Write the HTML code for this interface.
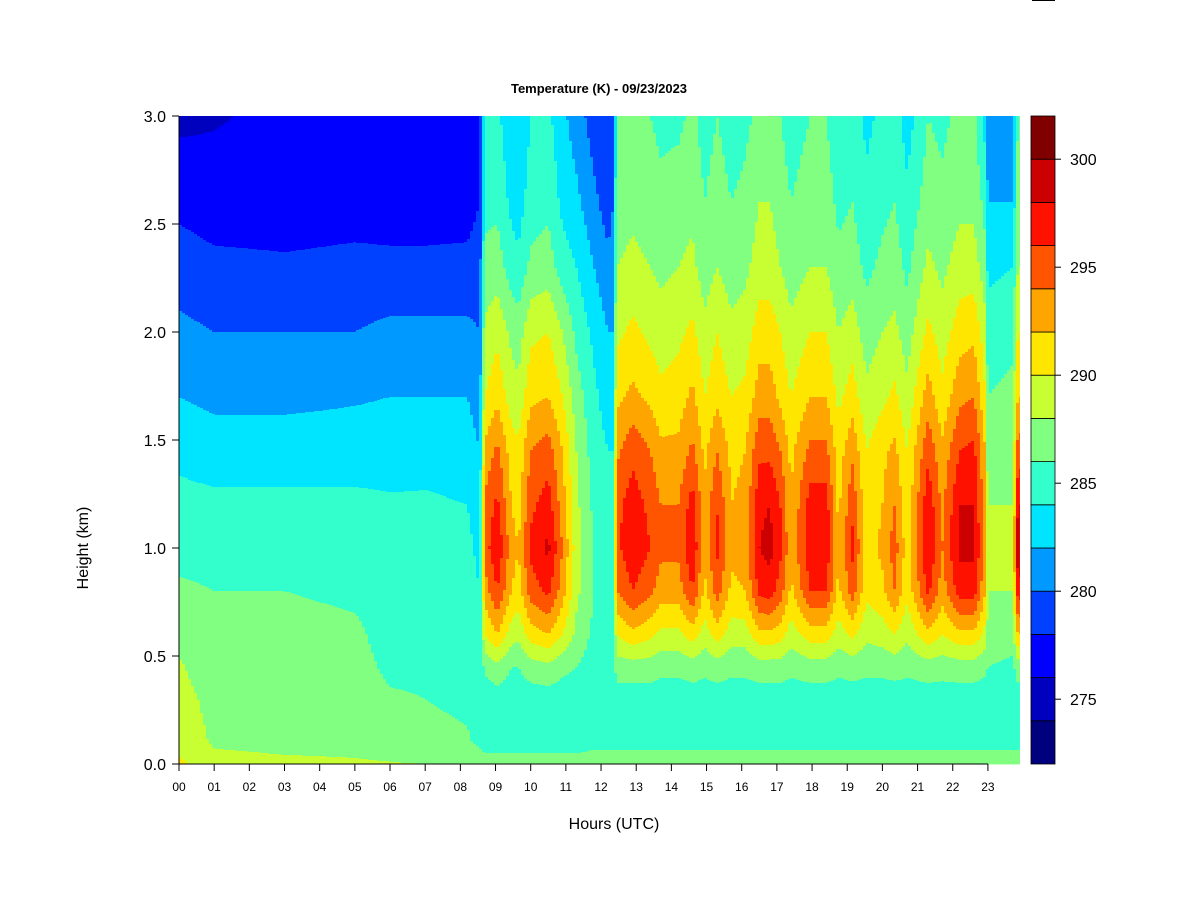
<!DOCTYPE html>
<html><head><meta charset="utf-8"><style>
html,body{margin:0;padding:0;background:#fff;}
svg{display:block;font-family:"Liberation Sans",Arial,sans-serif;}
</style></head><body>
<svg id="chart" width="1200" height="900" viewBox="0 0 1200 900">
<rect width="1200" height="900" fill="#fff"/>
<line x1="1032" y1="0" x2="1055" y2="0" stroke="#000" stroke-width="2"/>
<text x="599" y="93" text-anchor="middle" font-size="13" font-weight="bold">Temperature (K) - 09/23/2023</text>
<g id="heat"></g>
<g id="axes"></g>
<g id="cbar"></g>
<text x="614" y="829" text-anchor="middle" font-size="16">Hours (UTC)</text>
<text x="88" y="548" text-anchor="middle" font-size="16" transform="rotate(-90 88 548)">Height (km)</text>
</svg>
<script>
const heights=[0,0.1,0.3,0.45,0.6,0.8,1.0,1.2,1.45,1.7,2.0,2.3,2.6,3.0];
const times=[0,1,3,5,6,7,8.2,8.55,8.7,9.05,9.45,9.65,10.0,10.5,10.9,11.3,11.8,12.2,12.35,12.45,12.9,13.4,13.7,14.2,14.6,14.95,15.3,15.7,16.1,16.5,16.8,17.1,17.4,17.95,18.4,18.75,19.15,19.55,20.0,20.35,20.7,21.3,21.7,22.2,22.6,22.9,23.0,23.7,23.85,23.95];
const temps=[
[290.5,289,288.6,288.2,287.5,286.5,285,284.6,283.5,282,280.5,279,277.5,275.5],
[288.5,287.8,287.5,287,287,286,285,284.5,283,281.5,280,278.5,277,275.8],
[288.3,287.6,287.4,287,287,286,285,284.5,283,281.5,280,278.3,277,276.5],
[288.2,287.5,287.2,286.9,286.5,285.5,285,284.5,283,281.8,280,278.5,277.2,276.5],
[288.1,287.2,286.3,285.5,285,285,284.8,284.3,283,282,280.5,278.5,277,276.5],
[288,286.8,286,285.5,285,285,284.8,284.3,283.2,282,280.5,278.5,277,276.3],
[287.8,286.3,285.5,285,285,284.8,284.5,284,283,282,280.5,278.5,277.2,276.5],
[287.5,285.5,284.6,284.5,284.5,284,283.5,283,282,281,280,279,278,277],
[287,285,284.5,286.5,290,293,295,294.5,292.5,290,288.5,286.5,285.5,284],
[287,285,285,287.5,292,296,297.8,296.5,294.5,291.5,289.5,287,285.5,284.5],
[287,285,285,286,289,292,293,292,291,289,287.5,285,283.5,282.5],
[287,285,285,286,288.5,291,292,291,290.5,288.5,287,284.5,283,282],
[287,285,285,287,291,295,296.5,295.5,294,291.5,289.5,286.5,285,284],
[287,285,285,287.5,292,296.5,298.5,297,295,292,290,287,285.5,284.5],
[287,285,285,286.5,290,293,294,293,292,290,288,285,283.5,282.5],
[287,285,285,286,287.5,288.5,289,288.5,288,287,285.5,284,282.5,281],
[287,285.5,285,285,285.5,286,286,285.5,285,284.5,283.5,282,280.5,279],
[287,285.5,285,285,285,285,285,284.5,284,283,282,280.5,279,278],
[287,285.5,285,285,285,285,285,284.5,284,283,282,281,280,279],
[287,285.5,285,287,290,294,295.5,295.5,293.5,291.5,289.5,288,287,286],
[287,285.5,285,287,291.5,296,297.5,297,295.5,292.5,290.5,288.5,287.5,286.5],
[287,285.5,285,287,290.5,294.5,296,295.5,294,291.5,289.5,288,287,286],
[287,285.5,285,286.5,289.5,293,294.5,294,292.5,290.5,289,287.5,286.5,285.5],
[287,285.5,285,286.5,289.5,293,294.5,294,292.5,291,289.5,288,287,285.5],
[287,285.5,285,287,291,296,297.8,297,294.5,292.5,290.5,288.5,287.5,286.5],
[287,285.5,285,286.5,289,291.5,292.5,292.5,291.5,290,288.5,287,286,285],
[287,285.5,285,287,291,295,296.5,296,294,291.5,290,288,287,286],
[287,285.5,285,286.5,289,291.5,292.5,292,291.5,290,288.5,287,286,285],
[287,285.5,285,286.5,289,292,293,292.5,292,290.5,289,287.5,286.5,285.5],
[287,285.5,285,287,291.5,296.5,298,297.5,295.5,293,291,289,288,286.5],
[287,285.5,285,287,291.5,297,298.8,298,295.5,293,291,289,288,286.5],
[287,285.5,285,287,291,295,296.5,296,294,291.5,290,288,287,286],
[287,285.5,285,286.5,289,291.5,292.5,292,291.5,290,288.5,287,286,285],
[287,285.5,285,287,291,296,297.5,297,294.5,292,290,288,287,286],
[287,285.5,285,287,291,296,297.5,297,294.5,292,290,288,287,286],
[287,285.5,285,286.5,289,291.5,292,291.5,291,289.5,288,286.5,285.5,284.5],
[287,285.5,285,286.8,290.5,295,296.5,295.5,293.5,291,289,287,286,285],
[287,285.5,285,286.5,288.5,290.5,291,290.5,290,288.5,287,285.5,284.5,283.5],
[287,285.5,285,286.5,289,291.5,292.5,292,291.5,289.5,288,286.5,285.5,284.5],
[287,285.5,285,286.8,290,294,295,294,292.5,290.5,288.5,287,286,285],
[287,285.5,285,286.5,288.5,290.5,291,290.5,290,288.5,287,285.5,284.5,283],
[287,285.5,285,287,291.5,296.5,298,297.5,295.5,293,290.5,288.5,287,286],
[287,285.5,285,286.8,290,293,294,293.5,292.5,290.5,289,287.5,286.5,285.5],
[287,285.5,285,287,291.5,297,298.5,298,296,293.5,291,289,287.5,286.5],
[287,285.5,285,287,291.5,297,298.5,298,296.5,294,291.5,289,287.5,286.5],
[287,285.5,285,286.5,289.5,292.5,293.5,293,292.5,290.5,289,287,285.5,283.5],
[287,285.5,285,286,287.5,288,288.5,288,287,286,285,283.5,282,280.5],
[287,285.5,285,285.5,287,288,288.5,288,287.5,286.5,285.5,284,282,281],
[287,285.5,285,287,292,297,300,298,295,292,290,288,287,286],
[287,285.5,285,287,292,297,300,298,295,292,290,288,287,286]
];
const levelBreaks=[272,274,276,278,280,282,284,286,288,290,292,294,296,298,300,302];
const cbTicks=[275,280,285,290,295,300];
const hourLabels=["00","01","02","03","04","05","06","07","08","09","10","11","12","13","14","15","16","17","18","19","20","21","22","23"];
const yTicks=[0,0.5,1,1.5,2,2.5,3];
const colors=["#00007F","#0000BF","#0000FF","#0040FF","#0099FF","#00E5FF","#33FFCC","#80FF80","#C8FF33","#FFE600","#FFA500","#FF5500","#FF1100","#CC0000","#800000"];

const NS="http://www.w3.org/2000/svg";
const X0=179,PX=35.17,Y0=764,PY=216;
const xS=t=>X0+t*PX, yS=h=>Y0-h*PY;
const tMax=23.9;
function lerpIdx(arr,v){let i=0;while(i<arr.length-2&&arr[i+1]<v)i++;const f=Math.max(0,Math.min(1,(v-arr[i])/(arr[i+1]-arr[i])));return [i,f];}
function val(t,h){const [i,fi]=lerpIdx(times,t);const [j,fj]=lerpIdx(heights,h);
 const a=temps[i][j]*(1-fj)+temps[i][j+1]*fj;const b=temps[i+1][j]*(1-fj)+temps[i+1][j+1]*fj;return a*(1-fi)+b*fi;}
function lvl(v){let k=Math.floor((v-levelBreaks[0])/2);return Math.max(0,Math.min(colors.length-1,k));}
function mk(tag,attrs,txt){const e=document.createElementNS(NS,tag);for(const k in attrs)e.setAttribute(k,attrs[k]);if(txt!=null)e.textContent=txt;return e;}
const heat=document.getElementById('heat');
const x1=xS(0),x2=xS(tMax),CW=3;
for(let x=x1;x<x2;x+=CW){
 const w=Math.min(CW,x2-x);const t=(x+w/2-X0)/PX;
 let start=yS(3),cur=-1;
 for(let y=yS(3);y<=Y0;y+=1){
  const h=(Y0-(y+0.5))/PY;const k=y<Y0?lvl(val(t,Math.max(0,h))):-2;
  if(k!==cur){
   if(cur>=0){
    const r=mk('rect',{x:x,y:start,width:w+0.4,height:y-start+0.4,fill:colors[cur]});
    
    
    heat.appendChild(r);
   }
   cur=k;start=y;
  }
 }
}
const axes=document.getElementById('axes');
let l=mk('line',{x1:X0,y1:yS(0),x2:X0,y2:yS(3),stroke:'#000'});


axes.appendChild(l);
yTicks.forEach(v=>{
 const tk=mk('line',{x1:X0-7,y1:yS(v),x2:X0,y2:yS(v),stroke:'#000'});
 
 
 axes.appendChild(tk);
 const tx=mk('text',{x:X0-13,y:yS(v)+6,'text-anchor':'end','font-size':16},v.toFixed(1));
 
 
 axes.appendChild(tx);
});
l=mk('line',{x1:xS(0),y1:Y0,x2:xS(23),y2:Y0,stroke:'#000'});


axes.appendChild(l);
hourLabels.forEach((s,i)=>{
 const tk=mk('line',{x1:xS(i),y1:Y0,x2:xS(i),y2:Y0+7,stroke:'#000'});
 
 
 axes.appendChild(tk);
 const tx=mk('text',{x:xS(i),y:Y0+27,'text-anchor':'middle','font-size':12},s);
 
 
 axes.appendChild(tx);
});
const cb=document.getElementById('cbar');
const CBX=1031,CBW=24,cbY=v=>764-(v-272)*(648/30);
colors.forEach((c,i)=>{
 const r=mk('rect',{x:CBX,y:cbY(levelBreaks[i+1]),width:CBW,height:cbY(levelBreaks[i])-cbY(levelBreaks[i+1]),fill:c,stroke:'#000','stroke-width':0.8});
 
 
 cb.appendChild(r);
});
cbTicks.forEach(v=>{
 const tk=mk('line',{x1:CBX+CBW,y1:cbY(v),x2:CBX+CBW+6,y2:cbY(v),stroke:'#000'});
 
 
 cb.appendChild(tk);
 const tx=mk('text',{x:CBX+CBW+15,y:cbY(v)+6,'font-size':16},String(v));
 
 
 cb.appendChild(tx);
});
</script>
</body></html>
